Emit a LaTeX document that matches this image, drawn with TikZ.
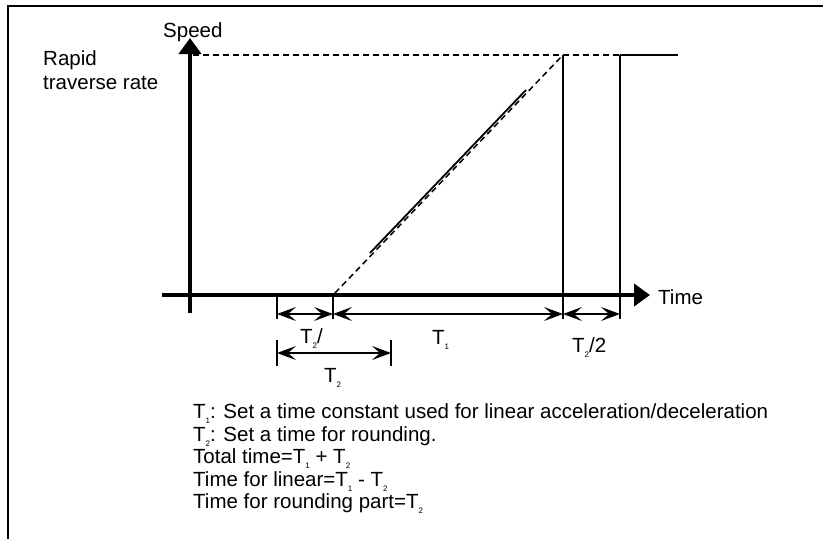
\documentclass[tikz,border=0pt]{standalone}
\usepackage{fontspec}
\setmainfont{Liberation Sans}
\usetikzlibrary{arrows.meta}
\tikzset{txt/.style = {anchor = base west, inner sep = 0pt, font = \fontsize{20.5}{24}\selectfont}}
\tikzset{axis/.style = {line width = 4.5pt, -{Triangle[length=16pt, width=22pt]}}}
\tikzset{dim/.style = {line width = 1.5pt, {Stealth[length=19pt, width=14pt, inset=8pt]}-{Stealth[length=19pt, width=14pt, inset=8pt]}}}
\tikzset{thin/.style = {line width = 1.5pt}}
\tikzset{dashline/.style = {line width = 1.5pt, dash pattern = on 6pt off 4pt}}
\newcommand{\tsub}[1]{\raisebox{-0.55ex}{\fontsize{8}{8}\selectfont #1}}

\begin{document}
\begin{tikzpicture}[x = 1pt, y = -1pt]
	\useasboundingbox (0, 0) rectangle (823, 539);
	\draw[line width = 2pt] (823, 6) -- (8, 6) -- (8, 539);

	% axes
	\coordinate (vb) at (190, 313);
	\coordinate (vt) at (190, 38);
	\coordinate (hl) at (162, 295);
	\coordinate (hr) at (650, 295);
	\draw[axis] (vb) -- (vt);
	\draw[axis] (hl) -- (hr);

	\node[txt] (speed) at (163, 37) {Speed};
	\node[txt] (rapid) at (43, 65) {Rapid};
	\node[txt] (rate) at (43, 89) {traverse rate};
	\node[txt] (time) at (658, 304) {Time};

	% speed curve
	\coordinate (s) at (335, 293);
	\coordinate (p) at (563, 55);
	\coordinate (q) at (620, 55);
	\draw[dashline] (193, 55) -- (q);
	\draw[thin] (q) -- (678, 55);
	\draw[dashline] (s) -- (p);
	\draw[line width = 1.8pt] (370, 253) -- (526, 90);
	\draw[thin] (p) -- (563, 319);
	\draw[thin] (q) -- (620, 319);

	% dimensions
	\foreach \x in {277, 333} {
		\draw[thin] (\x, 297) -- (\x, 319);
	}
	\draw[thin] (277, 340) -- (277, 366);
	\draw[thin] (391, 340) -- (391, 366);
	\draw[dim] (277, 314) -- (333, 314);
	\draw[dim] (333, 314) -- (563, 314);
	\draw[dim] (563, 314) -- (620, 314);
	\draw[dim] (277, 353) -- (391, 353);

	\node[txt] (half) at (300, 343) {T\tsub{2}/};
	\node[txt] (tone) at (432, 344) {T\tsub{1}};
	\node[txt] (halfb) at (572, 352) {T\tsub{2}/2};
	\node[txt] (ttwo) at (324, 382) {T\tsub{2}};

	% notes
	\node[txt] (n1) at (193, 418) {T\tsub{1}: Set a time constant used for linear acceleration/deceleration};
	\node[txt] (n2) at (193, 441) {T\tsub{2}: Set a time for rounding.};
	\node[txt] (n3) at (193, 463) {Total time=T\tsub{1} + T\tsub{2}};
	\node[txt] (n4) at (193, 486) {Time for linear=T\tsub{1} - T\tsub{2}};
	\node[txt] (n5) at (193, 508) {Time for rounding part=T\tsub{2}};
\end{tikzpicture}
\end{document}
